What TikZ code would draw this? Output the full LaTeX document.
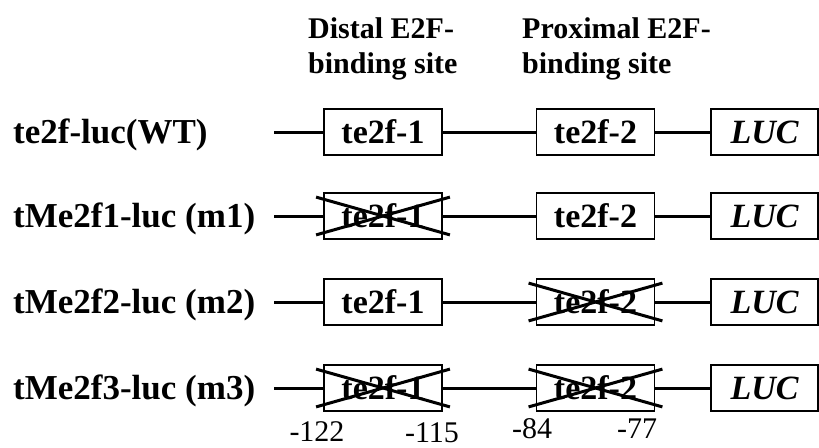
\documentclass[tikz,border=0pt]{standalone}
\usepackage{fontspec}
\setmainfont{Liberation Serif}
\begin{document}
\begin{tikzpicture}[x=1pt,y=-1pt,
  rowlabel/.style={anchor=base west,inner sep=0pt,font=\fontsize{35}{42}\selectfont\bfseries},
  site/.style={draw,line width=1.8pt,minimum width=118pt,minimum height=46pt,inner sep=0pt,
     font=\fontsize{34}{40}\selectfont\bfseries},
  lucbox/.style={draw,line width=1.8pt,minimum width=107pt,minimum height=46pt,inner sep=0pt,
     font=\fontsize{34}{40}\selectfont\bfseries\itshape},
  header/.style={anchor=north west,align=left,inner sep=0pt,font=\fontsize{30}{35}\selectfont\bfseries},
  poslabel/.style={anchor=base,inner sep=0pt,font=\fontsize{30}{36}\selectfont},
  wire/.style={line width=3pt},
  cross/.style={line width=3pt}
]
\useasboundingbox (0,0) rectangle (819,447);

\node[header] (h1) at (308,17) {Distal E2F-\\binding site};
\node[header] (h2) at (522,17) {Proximal E2F-\\binding site};

\foreach \i/\y/\lab in {1/132/te2f-luc(WT),2/216/tMe2f1-luc (m1),3/302/tMe2f2-luc (m2),4/388/tMe2f3-luc (m3)}{
  \node[rowlabel] (l\i) at (13,\y+11.5) {\lab};
  \coordinate (s\i) at (274,\y);
  \node[site] (a\i) at (383,\y) {te2f-1};
  \node[site] (b\i) at (595.5,\y) {te2f-2};
  \node[lucbox] (c\i) at (764.5,\y) {LUC};
  \draw[wire] (s\i) -- (a\i) -- (b\i) -- (c\i);
}

\foreach \n in {a2,b3,a4,b4}{
  \draw[cross] ([shift={(-7,5)}]\n.north west) -- ([shift={(7,-5)}]\n.south east);
  \draw[cross] ([shift={(-7,-5)}]\n.south west) -- ([shift={(7,5)}]\n.north east);
}

\node[poslabel] (p1) at (317,441) {-122};
\node[poslabel] (p2) at (432,442) {-115};
\node[poslabel] (p3) at (532,438) {-84};
\node[poslabel] (p4) at (637,438) {-77};
\end{tikzpicture}
\end{document}
